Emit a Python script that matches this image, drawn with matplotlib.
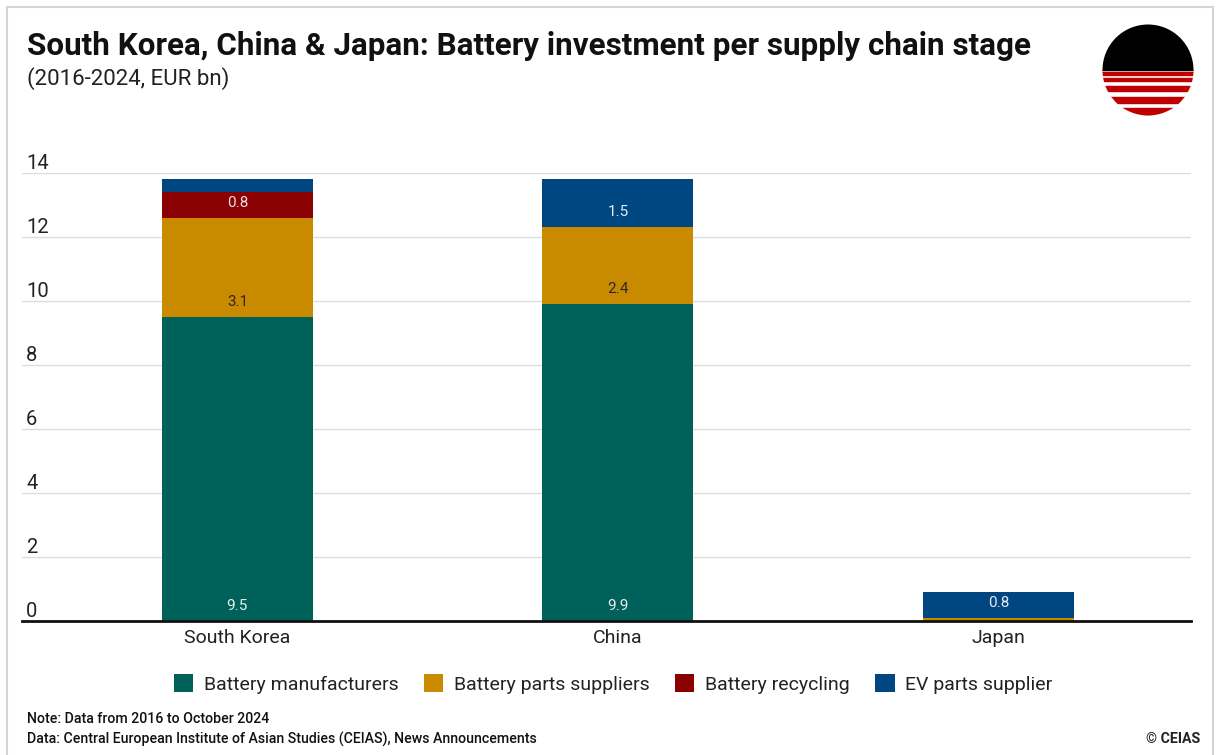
import numpy as np
import matplotlib.pyplot as plt
from matplotlib.patches import Patch, Rectangle, Circle

plt.rcParams['font.family'] = ['Roboto', 'DejaVu Sans']

countries = ['South Korea', 'China', 'Japan']
stages = ['Battery manufacturers', 'Battery parts suppliers', 'Battery recycling', 'EV parts supplier']
manufacturers = [9.5, 9.9, 0.0]
parts_suppliers = [3.1, 2.4, 0.1]
recycling = [0.8, 0.0, 0.0]
ev_parts = [0.4, 1.5, 0.8]
colors = ['#00605A', '#C98A00', '#8B0000', '#004680']
label_colors = ['#e8eeee', '#2a2a2a', '#eedddd', '#e6ecf2']

W, H = 1219, 755
fig = plt.figure(figsize=(W / 100, H / 100), dpi=100)

# card border
fig.patches.append(Rectangle((7 / W, -0.01), (1213 - 7) / W, 1 - 7 / H + 0.01,
                             transform=fig.transFigure, fill=False,
                             edgecolor='#d4d4d4', linewidth=1.5))

ax = fig.add_axes([22 / W, (H - 621) / H, (1191 - 22) / W, (621 - 173) / H])

x = np.arange(len(countries))
series = [manufacturers, parts_suppliers, recycling, ev_parts]
bottom = np.zeros(len(countries))
for vals, col, lc in zip(series, colors, label_colors):
    vals = np.array(vals)
    ax.bar(x, vals, width=0.397, bottom=bottom, color=col, zorder=3)
    for xi, v, b in zip(x, vals, bottom):
        if v >= 0.5:
            ax.annotate('%.1f' % v, (xi, b), xytext=(0, 11), textcoords='offset points',
                        ha='center', va='center', fontsize=11, color=lc, zorder=4)
    bottom += vals

ax.set_xlim(-0.566, 2.506)
ax.set_ylim(0, 14)
ax.set_yticks(range(0, 15, 2))
ax.grid(axis='y', color='#dcdcdc', linewidth=1, zorder=0)
ax.set_axisbelow(True)
for s in ['top', 'right', 'left']:
    ax.spines[s].set_visible(False)
ax.spines['bottom'].set_linewidth(2)
ax.spines['bottom'].set_color('#111111')
ax.spines['bottom'].set_zorder(5)
ax.tick_params(axis='y', length=0, pad=-3, labelsize=14.5, labelcolor='#222222')
ax.tick_params(axis='x', length=0, pad=6, labelsize=14, labelcolor='#222222')
for lbl in ax.get_yticklabels():
    lbl.set_horizontalalignment('left')
    lbl.set_verticalalignment('bottom')
ax.set_xticks(x)
ax.set_xticklabels(countries)

handles = [Patch(facecolor=c, label=s) for c, s in zip(colors, stages)]
fig.legend(handles=handles, loc='center', bbox_to_anchor=(613 / W, 1 - 684 / H), ncol=4,
           frameon=False, fontsize=14, handlelength=1.0, handleheight=1.0,
           handletextpad=0.55, columnspacing=1.3, labelcolor='#222222')

title = fig.text(27 / W, 1 - 55 / H,
                 'South Korea, China & Japan: Battery investment per supply chain stage',
                 fontsize=22, fontweight='bold', color='#111111', va='baseline')
# shrink the title so it ends left of the logo
fig.canvas.draw()
tw = title.get_window_extent().width
title.set_fontsize(22 * 1000 / tw)

fig.text(27 / W, 1 - 85 / H, '(2016-2024, EUR bn)', fontsize=16, color='#222222', va='baseline')

fig.text(27 / W, 1 - 719 / H, 'Note: Data from 2016 to October 2024', fontsize=10.2,
         fontweight='medium', color='#111111', va='center')
fig.text(27 / W, 1 - 739 / H, 'Data: Central European Institute of Asian Studies (CEIAS), News Announcements',
         fontsize=10.2, fontweight='medium', color='#111111', va='center')
fig.text(1200 / W, 1 - 739 / H, '© CEIAS', fontsize=10.2, fontweight='bold',
         color='#222222', va='center', ha='right')

# logo: black upper half, red stripes below
lax = fig.add_axes([(1148 - 46) / W, 1 - (70 + 46) / H, 92 / W, 92 / H])
lax.set_xlim(-46, 46)
lax.set_ylim(-46, 46)
lax.axis('off')
clip = Circle((0, 0), 45.5, transform=lax.transData)
pieces = [Rectangle((-50, 0), 100, 50, color='black')]
for top, bot in [(2, 5), (8, 11), (16, 21), (27, 33), (38, 46)]:
    pieces.append(Rectangle((-50, -bot), 100, bot - top, color='#C00000'))
for p in pieces:
    lax.add_patch(p)
    p.set_clip_path(clip)

fig.savefig('out.png', dpi=100)
